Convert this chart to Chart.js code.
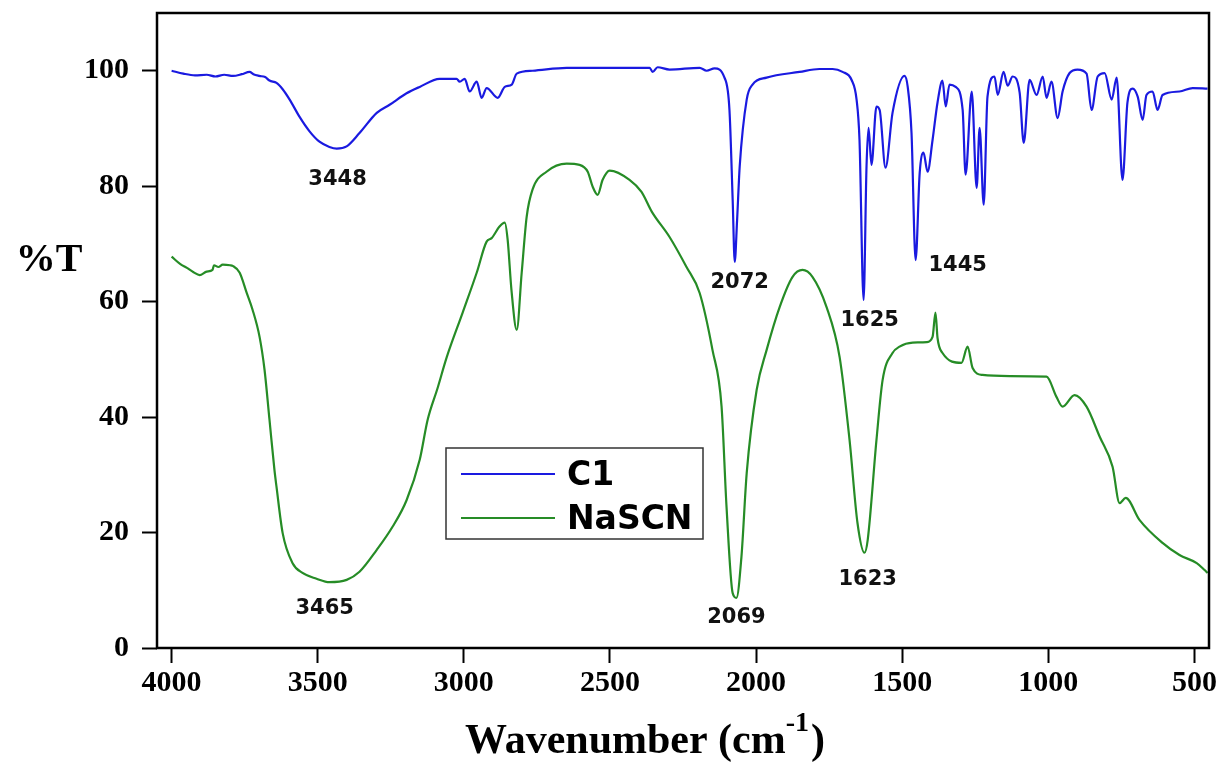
<!DOCTYPE html>
<html>
<head>
<meta charset="utf-8">
<script src="https://cdn.jsdelivr.net/npm/chart.js@4.4.1/dist/chart.umd.min.js"></script>
<style>
  html, body { margin: 0; padding: 0; background: #ffffff; }
  #wrap { position: relative; width: 1222px; height: 762px; }
</style>
</head>
<body>
<div id="wrap"><canvas id="c" width="1222" height="762"></canvas></div>
<script>
// ---------- data ----------
const seriesNames = ['C1', 'NaSCN'];

const c1Wavenumber = [4000,3960,3920,3880,3850,3820,3790,3760,3733,3720,3700,3680,3665,3641,3620,3596,3562,3528,3494,3460,3435,3401,3357,3298,3254,3196,3151,3083,3025,3014,2997,2980,2956,2939,2922,2884,2860,2836,2819,2765,2648,2535,2364,2354,2337,2296,2193,2169,2142,2108,2091,2080,2073,2065,2056,2032,2012,1964,1851,1783,1738,1704,1673,1656,1646,1632,1622,1615,1605,1588,1577,1557,1533,1492,1481,1468,1454,1440,1427,1413,1396,1379,1362,1351,1338,1317,1293,1283,1262,1245,1235,1221,1208,1184,1173,1153,1139,1122,1098,1084,1064,1040,1019,1006,989,968,951,927,900,869,852,831,807,783,766,746,729,711,694,677,664,643,626,609,551,506,455];
const c1Transmittance = [100,99.5,99.2,99.3,99.0,99.3,99.1,99.4,99.8,99.4,99.1,98.9,98.3,97.9,96.8,95,92,89.5,87.7,86.8,86.5,86.9,89.2,92.7,94.1,96.1,97.2,98.6,98.6,98.1,98.6,96.4,98.1,95.3,97.0,95.3,97.2,97.6,99.5,100,100.5,100.5,100.5,99.8,100.6,100.2,100.5,100,100.4,98.8,93.2,77.6,66.9,74,83.4,95,97.6,98.8,99.8,100.3,100.3,99.8,98.4,95,88,60.3,83.4,90.1,83.7,93.8,93.2,83.2,92.7,99.1,97.2,89.2,67.2,82.3,85.8,82.5,88,94.5,98.3,93.8,97.6,97.2,93.2,82,96.4,79.7,90.1,76.8,95.5,99,95.8,99.8,97.4,99,96.2,87.5,98.4,95.8,99,95.3,98.1,91.8,96.4,99.6,100.2,99.5,93.2,99,99.6,95,98.8,81.1,94.5,96.9,95.5,91.5,95.8,96.4,93.2,95.8,96.4,97,96.9];

const naWavenumber = [4000,3970,3949,3925,3904,3880,3860,3855,3840,3825,3800,3791,3767,3743,3723,3699,3682,3665,3648,3641,3620,3586,3552,3504,3460,3401,3357,3298,3244,3196,3151,3124,3090,3059,3004,2956,2922,2905,2878,2860,2850,2837,2819,2802,2785,2765,2717,2648,2604,2576,2559,2542,2525,2501,2433,2392,2357,2296,2238,2193,2149,2118,2101,2080,2067,2050,2032,1998,1964,1919,1875,1841,1807,1759,1714,1680,1653,1629,1618,1588,1567,1533,1509,1464,1416,1396,1386,1379,1362,1297,1276,1259,1225,1132,1006,972,951,910,869,824,780,756,735,688,609,551,492,465,455];
const naTransmittance = [67.8,66.5,65.9,65.1,64.6,65.2,65.5,66.3,66.0,66.4,66.3,66.2,65,61.5,58.6,53.9,48.2,39.5,30.8,27.9,19.9,14.7,13,12,11.4,11.8,13.2,17,21,25.6,32.6,39.5,45,50.3,58.1,65,70.4,71,73,73.7,70.7,62,55.1,65,74.7,79.4,82.5,83.9,83.7,82.5,79.9,78.5,81.1,82.7,81.1,79,75.6,71.2,66,61.5,51.6,41.8,24.4,9.5,8.7,15.8,30.3,44.7,51.6,59.1,64.3,65.5,64.3,59.1,50.4,36,21.7,16.5,18.7,36,46.4,51.1,52.2,52.9,53,53.9,58.1,53.7,51.1,49.4,52.2,48.5,47.3,47.1,47,43.5,41.8,43.8,41.8,36.6,31.4,25.1,26,22.2,18.2,16.1,14.7,13.5,13];

const xTicks = [4000,3500,3000,2500,2000,1500,1000,500];
const yTicks = [0,20,40,60,80,100];

const peakLabels = ['3448','2072','1625','1445','3465','2069','1623'];
const peakLabelWavenumber = [3432,2056,1611,1310,3476,2067,1618];
const peakLabelT = [81.1,63.3,56.8,66.2,6.9,5.2,11.8];

const xAxisTitle = 'Wavenumber (cm';
const xAxisTitleSup = '-1';
const xAxisTitleEnd = ')';
const yAxisTitle = '%T';

// ---------- build ----------
const colors = ['#1a1ae0', '#268c26'];
function pts(xs, ys) { return xs.map((x, i) => ({ x: x, y: ys[i] })); }

const SERIF = '"Liberation Serif", "Times New Roman", serif';
const SANS = '"DejaVu Sans", Verdana, sans-serif';

const decorPlugin = {
  id: 'decor',
  afterDatasetsDraw(chart) {
    const ctx = chart.ctx;
    const a = chart.chartArea;
    const xs = chart.scales.x, ys = chart.scales.y;
    ctx.save();
    // frame
    ctx.strokeStyle = '#000';
    ctx.lineWidth = 2.5;
    ctx.strokeRect(a.left, a.top, a.right - a.left, a.bottom - a.top);

    // peak labels
    ctx.fillStyle = '#111';
    ctx.font = 'bold 21px ' + SANS;
    ctx.textAlign = 'center';
    ctx.textBaseline = 'middle';
    peakLabels.forEach((t, i) => {
      ctx.fillText(t, xs.getPixelForValue(peakLabelWavenumber[i]), ys.getPixelForValue(peakLabelT[i]));
    });

    // legend
    const lx = 446, ly = 448, lw = 257, lh = 91;
    ctx.fillStyle = '#fff';
    ctx.fillRect(lx, ly, lw, lh);
    ctx.strokeStyle = '#333';
    ctx.lineWidth = 1.5;
    ctx.strokeRect(lx, ly, lw, lh);
    const rows = [474, 518];
    seriesNames.forEach((n, i) => {
      ctx.strokeStyle = colors[i];
      ctx.lineWidth = 2;
      ctx.beginPath();
      ctx.moveTo(lx + 15, rows[i]);
      ctx.lineTo(lx + 109, rows[i]);
      ctx.stroke();
      ctx.fillStyle = '#000';
      ctx.font = 'bold 33px ' + SANS;
      ctx.textAlign = 'left';
      ctx.textBaseline = 'middle';
      ctx.fillText(n, lx + 121, rows[i] + 2);
    });

    // y title
    ctx.fillStyle = '#000';
    ctx.font = 'bold 40px ' + SERIF;
    ctx.textAlign = 'center';
    ctx.textBaseline = 'middle';
    ctx.fillText(yAxisTitle, 49, 261);

    // x title with superscript
    ctx.textBaseline = 'alphabetic';
    ctx.textAlign = 'left';
    const mainFont = 'bold 42px ' + SERIF, supFont = 'bold 28px ' + SERIF;
    ctx.font = mainFont; const w1 = ctx.measureText(xAxisTitle).width;
    ctx.font = supFont; const w2 = ctx.measureText(xAxisTitleSup).width;
    ctx.font = mainFont; const w3 = ctx.measureText(xAxisTitleEnd).width;
    const total = w1 + w2 + 2 + w3;
    let sx = 645 - total / 2;
    const base = 753;
    ctx.font = mainFont; ctx.fillText(xAxisTitle, sx, base); sx += w1;
    ctx.font = supFont; ctx.fillText(xAxisTitleSup, sx, base - 22); sx += w2 + 2;
    ctx.font = mainFont; ctx.fillText(xAxisTitleEnd, sx, base);
    ctx.restore();
  }
};

new Chart(document.getElementById('c'), {
  type: 'line',
  data: {
    datasets: [
      { label: seriesNames[0], data: pts(c1Wavenumber, c1Transmittance), borderColor: colors[0], borderWidth: 2.2, pointRadius: 0, cubicInterpolationMode: 'monotone', fill: false },
      { label: seriesNames[1], data: pts(naWavenumber, naTransmittance), borderColor: colors[1], borderWidth: 2.2, pointRadius: 0, cubicInterpolationMode: 'monotone', fill: false }
    ]
  },
  options: {
    responsive: false,
    animation: false,
    events: [],
    layout: { padding: { left: 0, top: 13, right: 13, bottom: 0 } },
    plugins: { legend: { display: false }, tooltip: { enabled: false }, title: { display: false } },
    scales: {
      x: {
        type: 'linear',
        reverse: true,
        min: 450,
        max: 4050,
        afterBuildTicks: s => { s.ticks = xTicks.map(v => ({ value: v })); },
        afterFit: s => { s.height = 114; s.paddingLeft = 0; s.paddingRight = 0; },
        grid: { display: true, drawOnChartArea: false, drawTicks: true, tickLength: 15, tickWidth: 2, tickColor: '#000' },
        border: { display: false },
        ticks: { color: '#000', font: { family: SERIF, weight: 'bold', size: 30 }, padding: 2, maxRotation: 0, autoSkip: false, callback: v => String(v) }
      },
      y: {
        type: 'linear',
        min: 0,
        max: 110,
        afterBuildTicks: s => { s.ticks = yTicks.map(v => ({ value: v })); },
        afterFit: s => { s.width = 157; s.paddingTop = 0; s.paddingBottom = 0; },
        grid: { display: true, drawOnChartArea: false, drawTicks: true, tickLength: 15, tickWidth: 2, tickColor: '#000' },
        border: { display: false },
        ticks: { color: '#000', font: { family: SERIF, weight: 'bold', size: 30 }, padding: 13, callback: v => String(v) }
      }
    }
  },
  plugins: [decorPlugin]
});
</script>
</body>
</html>
